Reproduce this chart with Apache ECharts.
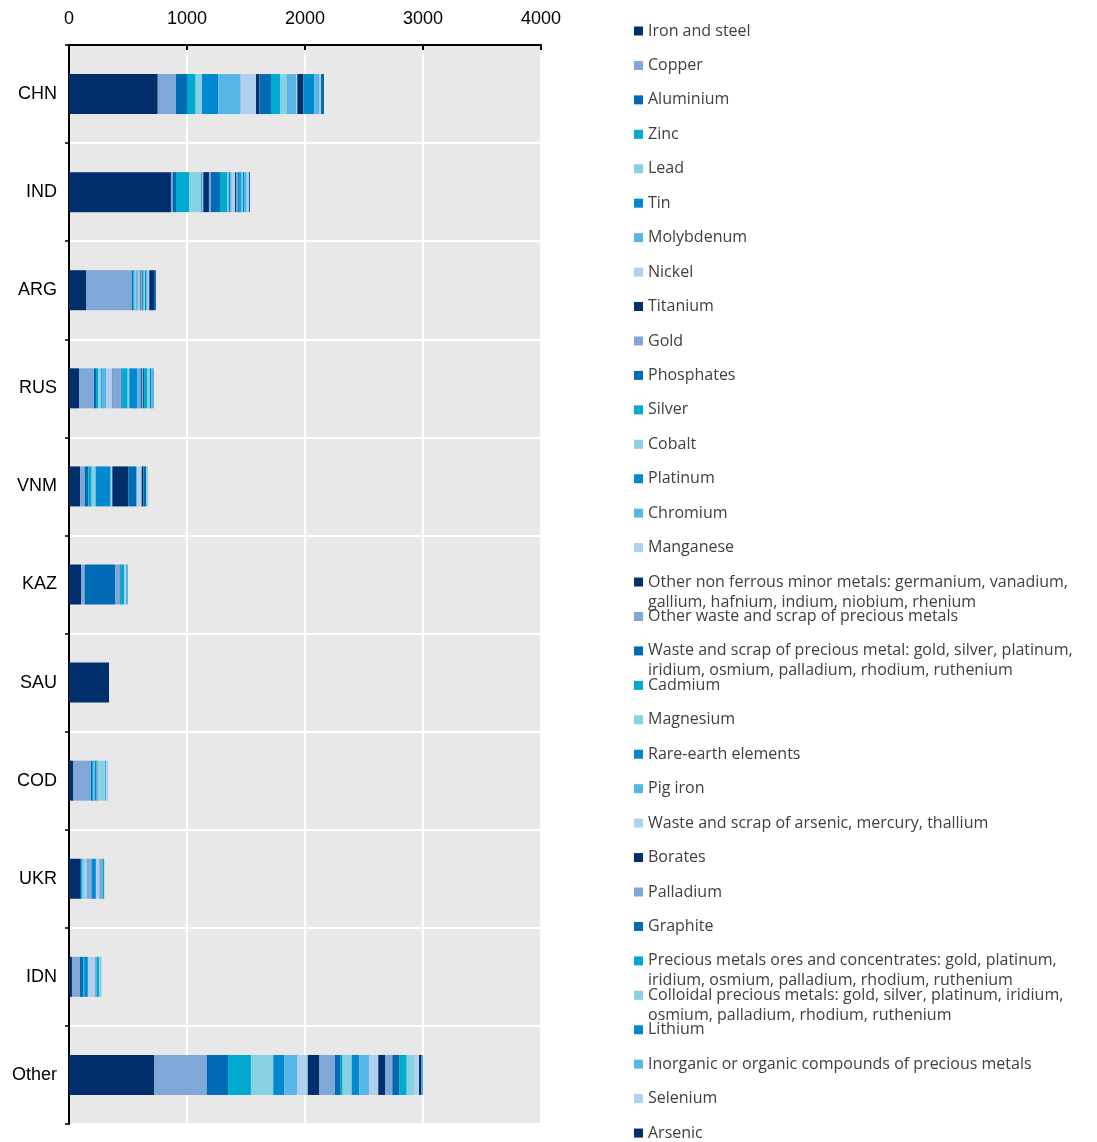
<!DOCTYPE html>
<html><head><meta charset="utf-8">
<script src="https://cdn.jsdelivr.net/npm/echarts@6/dist/echarts.min.js"></script>
<style>html,body{margin:0;padding:0;background:#fff}#c{width:1097px;height:1142px}</style>
</head><body><div id="c"></div>
<script>
const countries = ['CHN','IND','ARG','RUS','VNM','KAZ','SAU','COD','UKR','IDN','Other'];
const xTicks = [0, 1000, 2000, 3000, 4000];
const seriesNames = [
  'Iron and steel','Copper','Aluminium','Zinc','Lead','Tin','Molybdenum','Nickel','Titanium','Gold',
  'Phosphates','Silver','Cobalt','Platinum','Chromium','Manganese',
  'Other non ferrous minor metals: germanium, vanadium, gallium, hafnium, indium, niobium, rhenium',
  'Other waste and scrap of precious metals',
  'Waste and scrap of precious metal: gold, silver, platinum, iridium, osmium, palladium, rhodium, ruthenium',
  'Cadmium','Magnesium','Rare-earth elements','Pig iron','Waste and scrap of arsenic, mercury, thallium',
  'Borates','Palladium','Graphite',
  'Precious metals ores and concentrates: gold, platinum, iridium, osmium, palladium, rhodium, ruthenium',
  'Colloidal precious metals: gold, silver, platinum, iridium, osmium, palladium, rhodium, ruthenium',
  'Lithium','Inorganic or organic compounds of precious metals','Selenium','Arsenic'
];
const wrapped = {
  'Other non ferrous minor metals: germanium, vanadium, gallium, hafnium, indium, niobium, rhenium':
    ['Other non ferrous minor metals: germanium, vanadium,', 'gallium, hafnium, indium, niobium, rhenium'],
  'Waste and scrap of precious metal: gold, silver, platinum, iridium, osmium, palladium, rhodium, ruthenium':
    ['Waste and scrap of precious metal: gold, silver, platinum,', 'iridium, osmium, palladium, rhodium, ruthenium'],
  'Precious metals ores and concentrates: gold, platinum, iridium, osmium, palladium, rhodium, ruthenium':
    ['Precious metals ores and concentrates: gold, platinum,', 'iridium, osmium, palladium, rhodium, ruthenium'],
  'Colloidal precious metals: gold, silver, platinum, iridium, osmium, palladium, rhodium, ruthenium':
    ['Colloidal precious metals: gold, silver, platinum, iridium,', 'osmium, palladium, rhodium, ruthenium']
};
const palette = ['#002F6C','#7FA7D8','#006AB4','#00A9CE','#86D2E3','#0089D1','#57B6E7','#B0D0EF'];

// values per country, in series order
const chn = [752,155,93,73,54,138,190,130,28,0,99,76,59,0,77,11,51,0,0,0,0,93,45,12,0,0,25,0,0,0,0,0,0];
const ind = [864,14,29,110,104,6,6,5,48,15,79,62,11,13,13,28,8,14,10,24,10,15,18,19,0,0,9,0,0,0,0,0,0];
const arg = [144,390,11,11,17,6,11,11,6,14,6,6,11,11,11,14,40,0,17,0,0,0,0,0,0,0,0,0,0,0,0,0,0];
const rus = [85,127,17,17,28,11,29,56,6,68,5,48,14,68,23,5,10,9,10,28,22,10,24,0,0,0,0,0,0,0,0,0,0];
const vnm = [94,39,31,28,34,121,10,10,136,0,65,0,0,0,11,37,14,0,23,0,16,0,0,0,0,0,0,0,0,0,0,0,0];
const kaz = [102,31,257,0,0,0,0,0,0,42,6,31,0,0,0,14,0,0,0,0,0,0,17,0,0,0,0,0,0,0,0,0,0];
const sau = [339,0,0,0,0,0,0,0,0,0,0,0,0,0,0,0,0,0,0,0,0,0,0,0,0,0,0,0,0,0,0,0,0];
const cod = [37,150,8,14,8,17,0,0,0,14,0,0,56,0,14,14,0,0,0,0,0,0,0,0,0,0,0,0,0,0,0,0,0];
const ukr = [93,0,11,11,20,0,0,14,0,42,0,0,0,37,0,28,0,28,0,14,0,0,0,0,0,0,0,0,0,0,0,0,0];
const idn = [25,68,28,14,0,25,0,59,0,14,0,23,20,0,0,0,0,0,0,0,0,0,0,0,0,0,0,0,0,0,0,0,0];
const oth = [723,444,181,194,189,94,110,88,99,132,43,22,77,64,82,79,57,62,59,63,62,0,0,42,17,5,5,5,0,3,0,0,0];
const rows = [chn, ind, arg, rus, vnm, kaz, sau, cod, ukr, idn, oth];

const series = seriesNames.map((name, i) => ({
  name: name,
  type: 'bar',
  stack: 'total',
  barWidth: 40,
  itemStyle: { color: palette[i % 8] },
  emphasis: { disabled: true },
  data: rows.map(r => r[i])
}));

const legends = seriesNames.map((name, i) => {
  const center = 31 + i * 34.44;
  const isWrap = !!wrapped[name];
  return {
    left: 634,
    top: isWrap ? center - 30 : center - 10,
    orient: 'vertical',
    padding: 0,
    itemWidth: 9,
    itemHeight: 9,
    icon: 'rect',
    data: [name],
    formatter: function (n) {
      return wrapped[n] ? '\n' + wrapped[n][0] + '\n' + wrapped[n][1] : n;
    },
    textStyle: { fontFamily: 'Open Sans', fontSize: 16, color: '#404040', lineHeight: 20 }
  };
});

const chart = echarts.init(document.getElementById('c'), null, { renderer: 'canvas' });
chart.setOption({
  animation: false,
  backgroundColor: '#ffffff',
  legend: legends,
  grid: { left: 69, right: 556, top: 45, bottom: 18, containLabel: false, show: true, backgroundColor: '#e8e8e8', borderWidth: 0 },
  xAxis: {
    type: 'value', position: 'top', min: xTicks[0], max: xTicks[xTicks.length - 1], interval: 1000,
    axisLine: { show: true, lineStyle: { color: '#000', width: 2 } },
    axisTick: { show: true, inside: true, length: 5, lineStyle: { color: '#000', width: 2 } },
    axisLabel: { color: '#000', fontSize: 18, fontFamily: 'Liberation Sans', margin: 17, formatter: function (v) { return String(v); } },
    splitLine: { show: true, lineStyle: { color: '#ffffff', width: 2 } }
  },
  yAxis: {
    type: 'category', inverse: true, data: countries,
    axisLine: { show: true, lineStyle: { color: '#000', width: 2 } },
    axisTick: { show: true, length: 4, lineStyle: { color: '#000', width: 1.5 } },
    axisLabel: { color: '#000', fontSize: 18, fontFamily: 'Liberation Sans', margin: 12 },
    splitLine: { show: true, lineStyle: { color: '#ffffff', width: 2 } }
  },
  series: series
});
</script></body></html>
